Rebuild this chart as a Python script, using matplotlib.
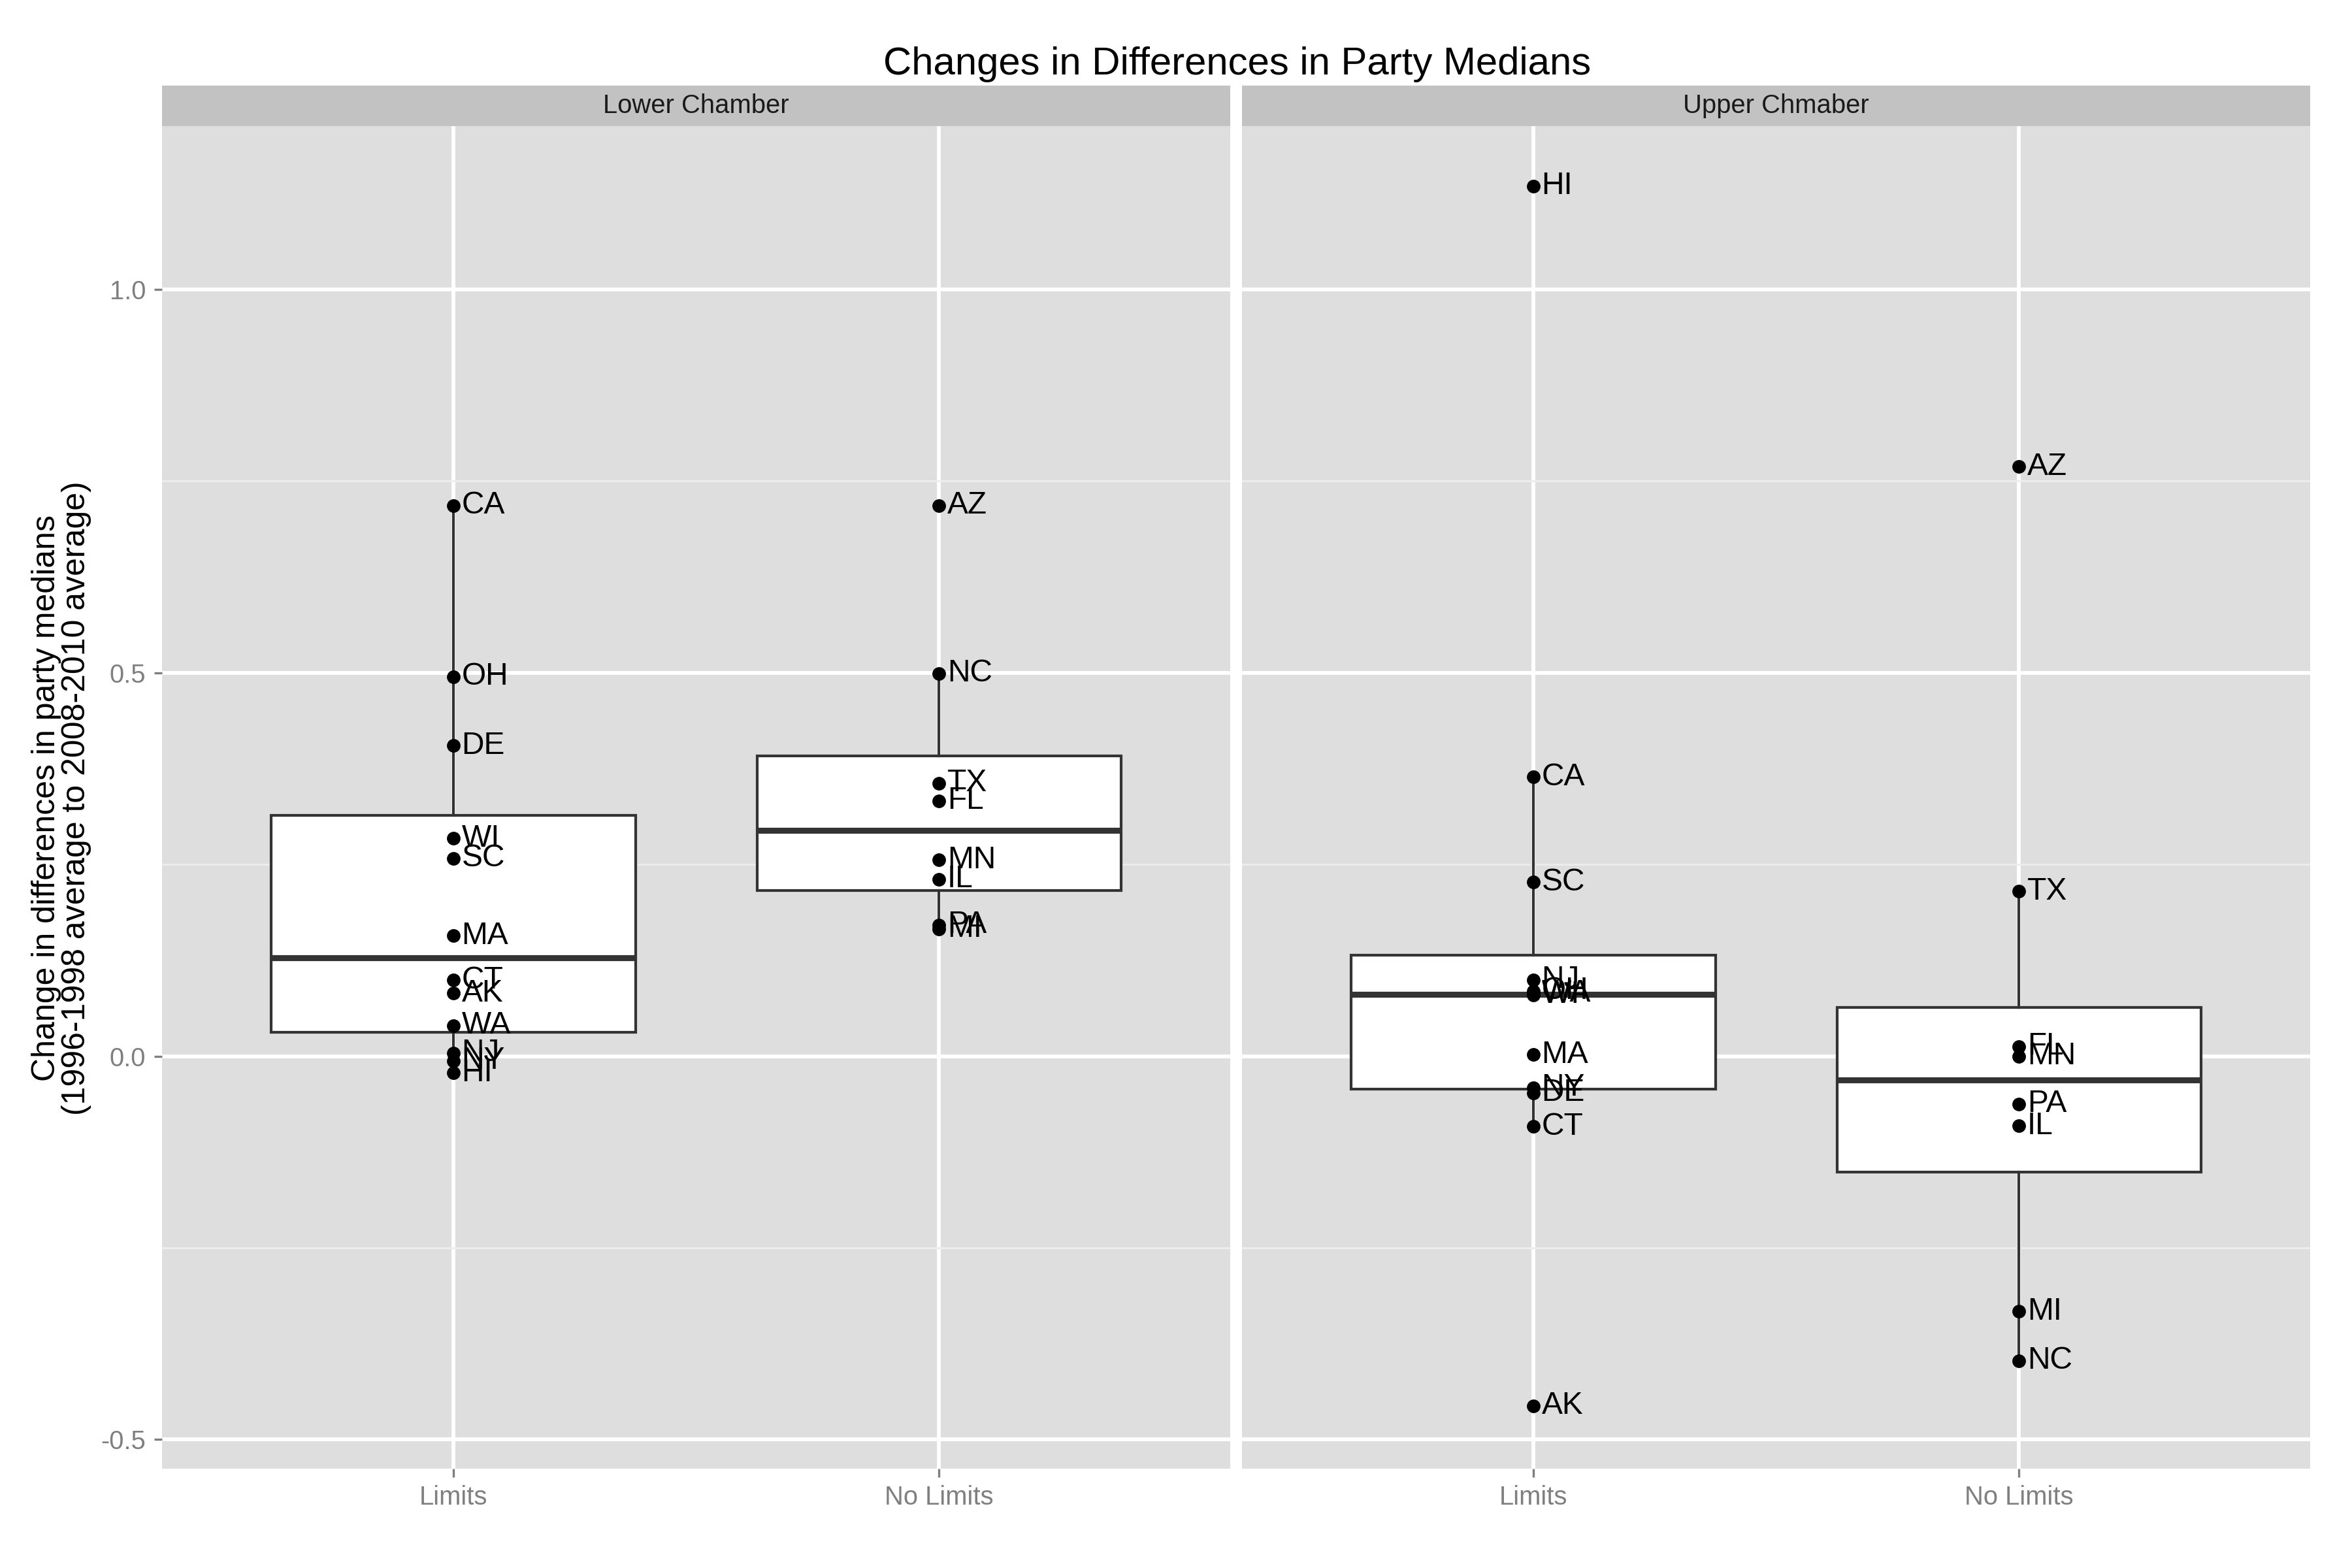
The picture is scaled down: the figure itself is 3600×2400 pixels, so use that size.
import matplotlib.pyplot as plt
import numpy as np

plt.rcParams['font.family'] = ['Liberation Sans', 'DejaVu Sans']
plt.rcParams['axes.unicode_minus'] = False

# facet panels and x categories
chambers = ["Lower Chamber", "Upper Chmaber"]
groups = ["Limits", "No Limits"]

# Lower chamber
lower_limits_states = ["CA", "OH", "DE", "WI", "SC", "MA", "CT", "AK", "WA", "NJ", "NY", "HI"]
lower_limits_vals = [0.718, 0.495, 0.405, 0.284, 0.258, 0.157, 0.099, 0.082, 0.040, 0.004, -0.006, -0.022]
lower_nolimits_states = ["AZ", "NC", "TX", "FL", "MN", "IL", "PA", "MI"]
lower_nolimits_vals = [0.718, 0.499, 0.356, 0.333, 0.256, 0.231, 0.171, 0.166]

# Upper chamber
upper_limits_states = ["HI", "CA", "SC", "NJ", "OH", "WA", "WI", "MA", "NY", "DE", "CT", "AK"]
upper_limits_vals = [1.135, 0.364, 0.227, 0.0995, 0.085, 0.082, 0.080, 0.002, -0.041, -0.048, -0.0915, -0.456]
upper_nolimits_states = ["AZ", "TX", "FL", "MN", "PA", "IL", "MI", "NC"]
upper_nolimits_vals = [0.769, 0.215, 0.0128, 0.000, -0.0625, -0.091, -0.333, -0.397]

panels = [
    [(lower_limits_states, lower_limits_vals), (lower_nolimits_states, lower_nolimits_vals)],
    [(upper_limits_states, upper_limits_vals), (upper_nolimits_states, upper_nolimits_vals)],
]

panel_bg = "#DEDEDE"
strip_bg = "#C2C2C2"
line_col = "#333333"

fig = plt.figure(figsize=(12, 8), dpi=300)

bottom, top = 0.0633, 0.9196
lefts = [0.0689, 0.5281]
width = 0.4542

for p, chamber in enumerate(chambers):
    ax = fig.add_axes([lefts[p], bottom, width, top - bottom])
    ax.set_facecolor(panel_bg)
    for s in ax.spines.values():
        s.set_visible(False)

    data = [np.array(v) for _, v in panels[p]]
    ax.boxplot(data, positions=[1, 2], widths=0.75, whis=1.5, showfliers=False,
               patch_artist=True,
               boxprops=dict(facecolor='white', edgecolor=line_col, linewidth=1.0),
               medianprops=dict(color=line_col, linewidth=2.2),
               whiskerprops=dict(color=line_col, linewidth=1.0),
               capprops=dict(linewidth=0), zorder=2)

    for i, (states, vals) in enumerate(panels[p]):
        xs = np.full(len(vals), i + 1.0)
        ax.plot(xs, vals, 'o', color='black', markersize=4, zorder=4)
        for st, v in zip(states, vals):
            ax.annotate(st, xy=(i + 1, v), xytext=(3, 0), textcoords='offset points',
                        ha='left', va='center', fontsize=11.5, color='black', zorder=5)

    ax.set_xlim(0.4, 2.6)
    ax.set_ylim(-0.538, 1.213)

    # grid like ggplot
    ax.set_yticks([-0.5, 0.0, 0.5, 1.0])
    ax.set_yticks([-0.25, 0.25, 0.75], minor=True)
    ax.set_xticks([1, 2])
    ax.set_xticklabels(groups)
    ax.grid(which='major', color='white', linewidth=1.4)
    ax.grid(which='minor', axis='y', color='#EDEDED', linewidth=0.7)
    ax.set_axisbelow(True)
    ax.tick_params(axis='both', which='major', length=3, width=0.8, color='#7F7F7F',
                   labelcolor='#7F7F7F', labelsize=9.6, pad=3)
    ax.tick_params(axis='both', which='minor', length=0)
    if p == 0:
        ax.set_yticklabels(["-0.5", "0.0", "0.5", "1.0"])
    else:
        ax.tick_params(axis='y', which='major', labelleft=False, length=0)

    # facet strip
    sax = fig.add_axes([lefts[p], top, width, 0.0258])
    sax.set_facecolor(strip_bg)
    sax.set_xticks([])
    sax.set_yticks([])
    for s in sax.spines.values():
        s.set_visible(False)
    sax.text(0.5, 0.5, chamber, ha='center', va='center', fontsize=9.6,
             color='#1A1A1A', transform=sax.transAxes)

fig.text(0.526, 0.959, "Changes in Differences in Party Medians", ha='center', va='center',
         fontsize=14.4)
fig.text(0.026, 0.491, "Change in differences in party medians\n(1996-1998 average to 2008-2010 average)",
         ha='center', va='center', rotation=90, fontsize=12, linespacing=1.0)

plt.savefig("out.png", dpi=300)
